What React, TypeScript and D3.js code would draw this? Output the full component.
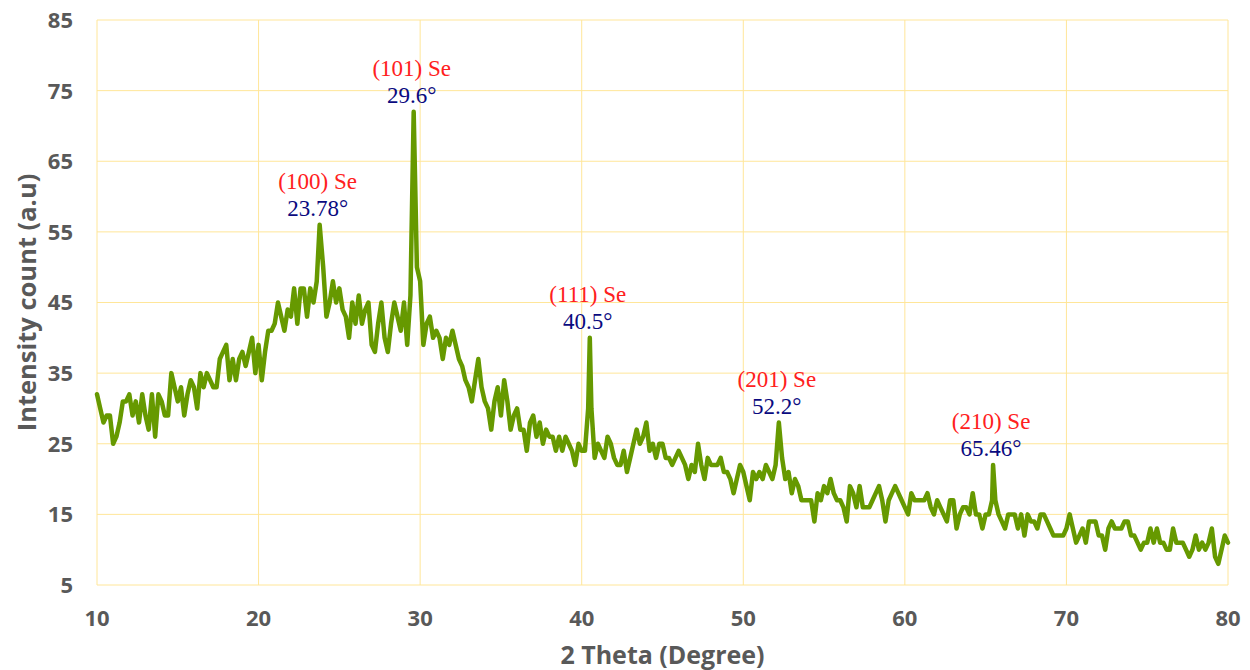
import React from 'react';
import * as d3 from 'd3';

// XRD scan on a 0.2 degree grid from 10 to 80
const scanStart = 10;
const scanStep = 0.2;
const intensity = [
  32, 30, 28, 29, 29, 25, 26, 28, 31, 31,
  32, 29, 31, 28, 32, 29, 27, 32, 26, 32,
  31, 29, 29, 35, 33, 31, 33, 29, 32, 34,
  33, 30, 35, 33, 35, 34, 33, 33, 37, 38,
  39, 34, 37, 34, 37, 38, 36, 38, 40, 35,
  39, 34, 38, 41, 41, 42, 45, 43, 41, 44,
  43, 47, 42, 47, 47, 43, 47, 45, 48, 56,
  50, 43, 45, 48, 45, 47, 44, 43, 40, 45,
  42, 46, 42, 44, 45, 39, 38, 42, 45, 40,
  38, 42, 45, 43, 41, 45, 39, 46, 72, 50,
  48, 39, 42, 43, 40, 41, 40, 37, 40, 39,
  41, 39, 37, 36, 34, 33, 31, 34, 37, 33,
  31, 30, 27, 31, 33, 29, 34, 31, 27, 29,
  30, 27, 27, 24, 28, 29, 26, 28, 25, 27,
  26, 26, 24, 26, 24, 26, 25, 24, 22, 25,
  24, 24, 30, 30, 23, 25, 24, 23, 26, 25,
  23, 22, 22, 24, 21, 23, 25, 27, 25, 26,
  28, 24, 25, 23, 25, 25, 23, 23, 22, 23,
  24, 23, 22, 20, 22, 21, 25, 22, 20, 23,
  22, 22, 22, 23, 21, 21, 20, 18, 20, 22,
  21, 19, 17, 21, 20, 21, 20, 22, 21, 20,
  22, 28, 23, 20, 21, 18, 20, 19, 17, 17,
  17, 17, 14, 18, 17, 19, 18, 20, 18, 17,
  17, 16, 14, 19, 18, 16, 19, 16, 16, 16,
  17, 18, 19, 17, 14, 17, 18, 19, 18, 17,
  16, 15, 18, 17, 17, 17, 17, 18, 16, 15,
  17, 16, 15, 14, 17, 17, 13, 15, 16, 16,
  15, 18, 15, 15, 13, 15, 15, 17, 17, 15,
  14, 13, 15, 15, 15, 13, 15, 12, 15, 14,
  14, 13, 15, 15, 14, 13, 12, 12, 12, 12,
  13, 15, 13, 11, 12, 13, 11, 14, 14, 14,
  12, 12, 10, 13, 14, 13, 13, 13, 14, 14,
  12, 12, 11, 10, 11, 11, 13, 11, 13, 11,
  11, 10, 10, 13, 11, 11, 11, 10, 9, 10,
  12, 10, 11, 10, 11, 13, 9, 8, 10, 12, 11,
];

// indexed peaks
const peakAngle = [23.78, 29.6, 40.5, 52.2, 65.46];
const peakHeight = [56, 72, 40, 28, 22];
const peakPlane = ['(100) Se', '(101) Se', '(111) Se', '(201) Se', '(210) Se'];
const peakText = ['23.78°', '29.6°', '40.5°', '52.2°', '65.46°'];

const xTicks = [10, 20, 30, 40, 50, 60, 70, 80];
const yTicks = [5, 15, 25, 35, 45, 55, 65, 75, 85];

const W = 1250, H = 670;
const margin = { top: 20, right: 22, bottom: 85, left: 97 };

export default function App() {
  const x = d3.scaleLinear().domain([10, 80]).range([margin.left, W - margin.right]);
  const y = d3.scaleLinear().domain([5, 85]).range([H - margin.bottom, margin.top]);

  // grid points, with the peak maxima slotted in (grid points sitting on a peak are dropped)
  let pts: [number, number][] = intensity.map((v, i) => [scanStart + i * scanStep, v]);
  pts = pts.filter(p => !peakAngle.some(a => Math.abs(a - p[0]) < 0.05));
  peakAngle.forEach((a, i) => pts.push([a, peakHeight[i]]));
  pts.sort((a, b) => a[0] - b[0]);

  const line = d3.line<[number, number]>()
    .x(d => x(d[0]))
    .y(d => y(d[1]));

  const grid = '#FFE699';
  const tickFont = { fontFamily: '"Open Sans", sans-serif', fontWeight: 700, fill: '#595959' };

  return (
    <div style={{ position: 'absolute', left: 0, top: 0 }}>
      <svg width={W} height={H} style={{ display: 'block', background: '#fff' }}>
        {/* grid */}
        {yTicks.map(t => (
          <line key={'gy' + t} x1={x(10)} x2={x(80)} y1={y(t)} y2={y(t)} stroke={grid} strokeWidth={1} />
        ))}
        {xTicks.map(t => (
          <line key={'gx' + t} x1={x(t)} x2={x(t)} y1={y(5)} y2={y(85)} stroke={grid} strokeWidth={1} />
        ))}

        {/* tick labels */}
        {yTicks.map(t => (
          <text key={'ty' + t} x={margin.left - 24} y={y(t)} dy="0.36em" textAnchor="end" fontSize={22} style={tickFont}>{t}</text>
        ))}
        {xTicks.map(t => (
          <text key={'tx' + t} x={x(t)} y={y(5) + 33} dy="0.36em" textAnchor="middle" fontSize={22} style={tickFont}>{t}</text>
        ))}

        {/* axis titles */}
        <text x={x(45)} y={H - 15} dy="0.36em" textAnchor="middle" fontSize={25} style={tickFont}>2 Theta (Degree)</text>
        <text transform={`translate(27,${y(45)}) rotate(-90)`} dy="0.36em" textAnchor="middle" fontSize={25.5} style={tickFont}>Intensity count (a.u)</text>

        {/* pattern */}
        <path d={line(pts) || ''} fill="none" stroke="#669900" strokeWidth={4.5} strokeLinejoin="round" strokeLinecap="round" />

        {/* peak labels */}
        {peakAngle.map((a, i) => (
          <g key={'pk' + i} style={{ fontFamily: '"Liberation Serif", "Times New Roman", serif' }} fontSize={23} textAnchor="middle">
            <text x={x(a) - 2} y={y(peakHeight[i]) - 36} fill="#FF2020">{peakPlane[i]}</text>
            <text x={x(a) - 2} y={y(peakHeight[i]) - 9} fill="#0A0A80">{peakText[i]}</text>
          </g>
        ))}
      </svg>
    </div>
  );
}
